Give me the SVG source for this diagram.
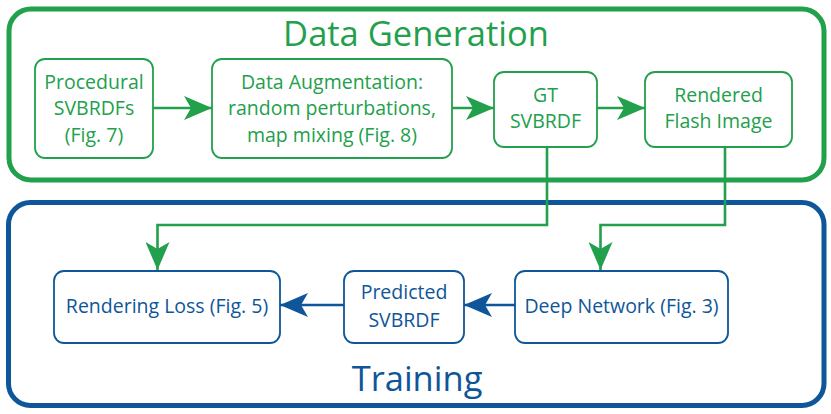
<svg xmlns="http://www.w3.org/2000/svg" width="831" height="414" viewBox="0 0 831 414">
<defs>
<style>
.g{fill:none;stroke:#22a04b}
.b{fill:none;stroke:#0e5699}
.node{fill:#fff;stroke-width:1.8}
.t{font-family:"Open Sans","Liberation Sans",sans-serif;font-size:19.5px;text-anchor:middle}
.tg{fill:#22a04b}
.tb{fill:#0e5699}
.title{font-family:"Open Sans","Liberation Sans",sans-serif;font-size:34.5px;text-anchor:middle}
.conn{stroke-width:2.6;fill:none}
</style>
<marker id="ag" viewBox="0 0 28 24" refX="28" refY="12" markerWidth="28" markerHeight="24" markerUnits="userSpaceOnUse" orient="auto">
<path d="M0,0 L28,12 L0,24 L7,12 Z" fill="#22a04b"/>
</marker>
<marker id="ab" viewBox="0 0 28 24" refX="28" refY="12" markerWidth="28" markerHeight="24" markerUnits="userSpaceOnUse" orient="auto">
<path d="M0,0 L28,12 L0,24 L7,12 Z" fill="#0e5699"/>
</marker>
</defs>
<rect width="831" height="414" fill="#fff"/>
<g id="data-generation">
<rect class="g" x="9" y="9" width="815" height="171" rx="22" stroke-width="5"/>
<text class="title tg" x="416" y="46">Data Generation</text>
</g>
<g id="training">
<rect class="b" x="8.5" y="202.5" width="815.5" height="203" rx="22" stroke-width="5"/>
<text class="title tb" x="417" y="391">Training</text>
</g>
<g id="connectors">
<path class="g conn" d="M153,108 H212" marker-end="url(#ag)"/>
<path class="g conn" d="M452,108 H494" marker-end="url(#ag)"/>
<path class="g conn" d="M597,108 H645" marker-end="url(#ag)"/>
<path class="g conn" d="M547,147 V225 H157.5 V270" marker-end="url(#ag)"/>
<path class="g conn" d="M725,147 V225 H600.5 V270" marker-end="url(#ag)"/>
<path class="b conn" d="M515,305 H464" marker-end="url(#ab)"/>
<path class="b conn" d="M344,305 H280" marker-end="url(#ab)"/>
</g>
<g id="procedural">
<rect class="g node" x="35" y="59" width="118" height="99" rx="10"/>
<text class="t tg" x="94" y="89">Procedural</text>
<text class="t tg" x="94" y="115">SVBRDFs</text>
<text class="t tg" x="94" y="142">(Fig. 7)</text>
</g>
<g id="augmentation">
<rect class="g node" x="212" y="59" width="240" height="99" rx="10"/>
<text class="t tg" x="332" y="89">Data Augmentation:</text>
<text class="t tg" x="332" y="115">random perturbations,</text>
<text class="t tg" x="332" y="142">map mixing (Fig. 8)</text>
</g>
<g id="gt-svbrdf">
<rect class="g node" x="494" y="72" width="103" height="75" rx="10"/>
<text class="t tg" x="545.5" y="102">GT</text>
<text class="t tg" x="545.5" y="128">SVBRDF</text>
</g>
<g id="flash-image">
<rect class="g node" x="645" y="72" width="147" height="75" rx="10"/>
<text class="t tg" x="718.5" y="102">Rendered</text>
<text class="t tg" x="718.5" y="128">Flash Image</text>
</g>
<g id="rendering-loss">
<rect class="b node" x="54" y="271" width="226" height="72" rx="10"/>
<text class="t tb" x="167" y="313">Rendering Loss (Fig. 5)</text>
</g>
<g id="predicted">
<rect class="b node" x="344" y="271" width="120" height="72" rx="10"/>
<text class="t tb" x="404" y="299">Predicted</text>
<text class="t tb" x="404" y="327">SVBRDF</text>
</g>
<g id="deep-network">
<rect class="b node" x="515" y="271" width="213" height="72" rx="10"/>
<text class="t tb" x="621.5" y="313">Deep Network (Fig. 3)</text>
</g>
</svg>
